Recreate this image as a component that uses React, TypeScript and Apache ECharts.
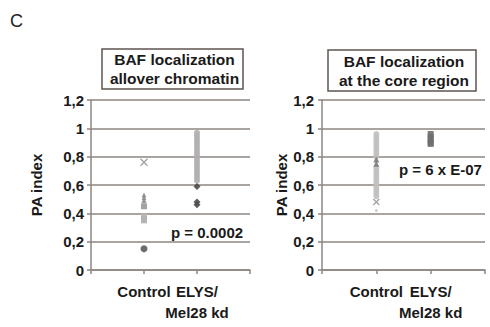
import React, { useEffect, useRef } from "react";
import * as echarts from "echarts";

const categories = ["", "Control", "ELYS/\nMel28 kd", ""];
const yTicks = [0, 0.2, 0.4, 0.6, 0.8, 1, 1.2];

// Left panel (allover chromatin): values per category, grouped by marker
const leftControlCross = [0.76];
const leftControlTriangle = [0.53, 0.51, 0.49];
const leftControlDash = [0.45];
const leftControlSquare = [0.38, 0.36, 0.35];
const leftControlCircle = [0.15];
const leftElysLight = [0.97, 0.95, 0.93, 0.91, 0.89, 0.87, 0.85, 0.83, 0.81, 0.79, 0.77, 0.75, 0.73, 0.71, 0.69, 0.67, 0.65, 0.63];
const leftElysDark = [0.59, 0.48, 0.46];

// Right panel (core region)
const rightControlLight = [0.96, 0.94, 0.92, 0.9, 0.88, 0.86, 0.84, 0.82, 0.8, 0.72, 0.7, 0.68, 0.66, 0.64, 0.62, 0.6, 0.58, 0.56, 0.54, 0.52];
const rightControlTriangle = [0.78, 0.75];
const rightControlCross = [0.48];
const rightControlDot = [0.42];
const rightElys = [0.96, 0.94, 0.92, 0.9, 0.89];

const titles = [["BAF localization", "allover chromatin"], ["BAF localization", "at the core region"]];
const pLabels = ["p = 0.0002", "p = 6 x E-07"];

const CROSS = "path://M0,0L10,10M10,0L0,10";

export default function App() {
  const ref = useRef<HTMLDivElement>(null);
  useEffect(() => {
    const chart = echarts.init(ref.current!, null, { renderer: "svg" });
    const font = "Liberation Sans, Arial, sans-serif";
    const gridColor = "#8e8680";
    const mk = (idx: number, cat: number, vals: number[], symbol: string, color: string, size: number, stroke = false) => ({
      type: "scatter",
      xAxisIndex: idx,
      yAxisIndex: idx,
      symbol,
      symbolSize: size,
      data: vals.map((v) => [cat, v]),
      itemStyle: stroke
        ? { color: "none", borderColor: color, borderWidth: 1.3 }
        : { color, opacity: 0.9 },
      silent: true,
    });
    const xAxis = (idx: number) => ({
      type: "category",
      gridIndex: idx,
      data: categories,
      boundaryGap: false,
      axisLine: { lineStyle: { color: gridColor, width: 1.5 } },
      axisTick: { show: true, length: 4, lineStyle: { color: gridColor, width: 1.5 } },
      axisLabel: {
        interval: 0,
        color: "#1a1a1a",
        fontFamily: font,
        fontWeight: "bold",
        fontSize: 15,
        lineHeight: 21,
        margin: 11,
      },
      splitLine: { show: false },
    });
    const yAxis = (idx: number, nameGap: number) => ({
      type: "value",
      gridIndex: idx,
      min: 0,
      max: 1.2,
      interval: 0.2,
      name: "PA index",
      nameLocation: "middle",
      nameRotate: 90,
      nameGap,
      nameTextStyle: { color: "#1a1a1a", fontFamily: font, fontWeight: "bold", fontSize: 15 },
      axisLine: { show: true, lineStyle: { color: gridColor, width: 1.5 } },
      axisTick: { show: true, length: 4, lineStyle: { color: gridColor, width: 1.5 } },
      axisLabel: {
        color: "#1a1a1a",
        fontFamily: font,
        fontWeight: "bold",
        fontSize: 15,
        margin: idx === 0 ? 7 : 8,
        formatter: (v: number) => (yTicks.includes(Math.round(v * 10) / 10) ? String(Math.round(v * 10) / 10).replace(".", ",") : ""),
      },
      splitLine: { show: true, lineStyle: { color: gridColor, width: 1.5 } },
    });
    const titleBox = (x: number, y: number, w: number, h: number, lines: string[]) => ({
      type: "group",
      children: [
        { type: "rect", shape: { x, y, width: w, height: h }, style: { fill: "#fff", stroke: "#5e5450", lineWidth: 1.5 } },
        {
          type: "text",
          x: x + w / 2 + 2,
          y: y + h / 2,
          style: {
            text: lines.join("\n"),
            fill: "#1a1a1a",
            font: `bold 15.5px ${font}`,
            lineHeight: 19,
            align: "center",
            verticalAlign: "middle",
          },
        },
      ],
    });
    chart.setOption({
      animation: false,
      backgroundColor: "#fff",
      grid: [
        { left: 91, top: 100, width: 159, height: 170 },
        { left: 322, top: 100, width: 163, height: 170 },
      ],
      xAxis: [xAxis(0), xAxis(1)],
      yAxis: [yAxis(0, 47), yAxis(1, 33)],
      series: [
        mk(0, 1, leftControlCross, CROSS, "#8a8a8a", 7, true),
        mk(0, 1, leftControlTriangle, "triangle", "#8a8a8a", 5),
        mk(0, 1, leftControlDash, "rect", "#999", 6),
        mk(0, 1, leftControlSquare, "rect", "#b3b3b3", 6),
        mk(0, 1, leftControlCircle, "circle", "#5c5c5c", 7),
        mk(0, 2, leftElysLight, "circle", "#b0b0b0", 6),
        mk(0, 2, leftElysDark, "diamond", "#4a4a4a", 7),
        mk(1, 1, rightControlLight, "circle", "#c0c0c0", 6),
        mk(1, 1, rightControlTriangle, "triangle", "#7a7a7a", 6),
        mk(1, 1, rightControlCross, CROSS, "#8a8a8a", 6, true),
        mk(1, 1, rightControlDot, "circle", "#c8c8c8", 3),
        mk(1, 2, rightElys, "rect", "#6f6f6f", 6),
      ],
      graphic: [
        { type: "text", x: 10, y: 12, style: { text: "C", fill: "#222", font: `18px ${font}` } },
        titleBox(102, 49, 141, 40, titles[0]),
        titleBox(328, 50, 148, 41, titles[1]),
        {
          type: "text",
          x: 171,
          y: 232,
          style: { text: pLabels[0], fill: "#1a1a1a", font: `bold 15px ${font}`, verticalAlign: "middle", backgroundColor: "#fff" },
        },
        {
          type: "text",
          x: 399,
          y: 169,
          style: { text: pLabels[1], fill: "#1a1a1a", font: `bold 15px ${font}`, verticalAlign: "middle", backgroundColor: "#fff" },
        },
      ],
    });
    return () => chart.dispose();
  }, []);
  return <div ref={ref} style={{ position: "fixed", left: 0, top: 0, width: 490, height: 327 }} />;
}
